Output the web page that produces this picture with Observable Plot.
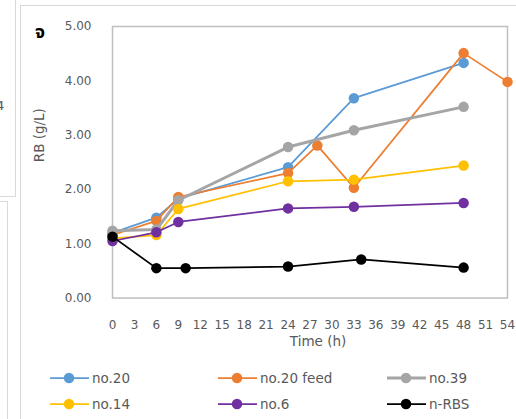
<!DOCTYPE html>
<html><head><meta charset="utf-8">
<script src="https://cdn.jsdelivr.net/npm/d3@7"></script>
<script src="https://cdn.jsdelivr.net/npm/@observablehq/plot@0.6"></script>
<style>
body{margin:0;background:#fff;font-family:"DejaVu Sans",sans-serif;}
#wrap{position:relative;width:516px;height:419px;overflow:hidden;background:#fff;}
#wrap svg.plot{position:absolute;left:0;top:0;}
.deco{position:absolute;border-color:#D9D9D9;border-style:solid;border-width:0;}
.leg{position:absolute;height:20px;display:flex;align-items:center;font-size:13.5px;color:#595959;white-space:nowrap;}
.leg svg{margin-right:3px;}
</style></head><body><div id="wrap"></div>
<script>
// ---- data ----
const seriesNames = ["no.20", "no.20 feed", "no.39", "no.14", "no.6", "n-RBS"];
const seriesColors = ["#5B9BD5", "#ED7D31", "#A5A5A5", "#FFC000", "#7030A0", "#000000"];
const seriesWidths = [1.75, 1.75, 3, 1.75, 1.75, 1.75];

const timeNo20 = [0, 6, 9, 24, 33, 48];
const rbNo20 = [1.20, 1.48, 1.83, 2.41, 3.68, 4.33];
const timeNo20Feed = [0, 6, 9, 24, 28, 33, 48, 54];
const rbNo20Feed = [1.16, 1.42, 1.86, 2.30, 2.81, 2.03, 4.51, 3.98];
const timeNo39 = [0, 6, 9, 24, 33, 48];
const rbNo39 = [1.24, 1.26, 1.80, 2.78, 3.09, 3.52];
const timeNo14 = [0, 6, 9, 24, 33, 48];
const rbNo14 = [1.10, 1.16, 1.64, 2.15, 2.18, 2.44];
const timeNo6 = [0, 6, 9, 24, 33, 48];
const rbNo6 = [1.05, 1.21, 1.40, 1.65, 1.68, 1.75];
const timeNRBS = [0, 6, 10, 24, 34, 48];
const rbNRBS = [1.13, 0.55, 0.55, 0.58, 0.71, 0.56];

const xTicks = [0, 3, 6, 9, 12, 15, 18, 21, 24, 27, 30, 33, 36, 39, 42, 45, 48, 51, 54];
const yTicks = [0, 1, 2, 3, 4, 5];
const xTitle = "Time (h)";
const yTitle = "RB (g/L)";
const panelLetter = "จ";

// ---- build ----
const times = [timeNo20, timeNo20Feed, timeNo39, timeNo14, timeNo6, timeNRBS];
const values = [rbNo20, rbNo20Feed, rbNo39, rbNo14, rbNo6, rbNRBS];
const seriesRows = seriesNames.map((name, i) => times[i].map((t, j) => ({series: name, t, v: values[i][j]})));

const seriesMarks = [];
seriesRows.forEach((rows, i) => {
  seriesMarks.push(Plot.line(rows, {x: "t", y: "v", stroke: seriesColors[i], strokeWidth: seriesWidths[i]}));
  seriesMarks.push(Plot.dot(rows, {x: "t", y: "v", fill: seriesColors[i], r: 5.25}));
});

const chart = Plot.plot({
  width: 516, height: 360,
  marginLeft: 112, marginRight: 9, marginTop: 26, marginBottom: 62.5,
  style: {fontFamily: "DejaVu Sans", fontSize: "12px", color: "#595959", background: "transparent"},
  x: {domain: [0, 54]},
  y: {domain: [0, 5]},
  marks: [
    Plot.frame({stroke: "#BFBFBF", strokeWidth: 1.5}),
    Plot.axisY({ticks: yTicks, tickSize: 0, tickPadding: 21, tickFormat: d => d.toFixed(2), label: null}),
    Plot.axisX({ticks: xTicks, tickSize: 0, tickPadding: 22.5, tickFormat: d => String(d), label: null}),
    Plot.text([xTitle], {frameAnchor: "bottom", dx: 8, dy: 44, lineAnchor: "middle", fontSize: 13.5, fill: "#595959"}),
    Plot.text([yTitle], {frameAnchor: "left", dx: -73, rotate: -90, lineAnchor: "middle", fontSize: 13.5, fill: "#595959"}),
    ...seriesMarks
  ]
});
chart.classList.add("plot");
const wrap = document.getElementById("wrap");
wrap.appendChild(chart);

// screenshot frame decorations
function deco(style) { const d = document.createElement("div"); d.className = "deco"; Object.assign(d.style, style); wrap.appendChild(d); }
deco({left: "20px", top: "5px", width: "520px", height: "430px", borderLeftWidth: "1.5px", borderTopWidth: "1.5px"});
deco({left: "-5px", top: "-5px", width: "20px", height: "201px", borderRightWidth: "1.5px", borderBottomWidth: "1.5px"});
deco({left: "-5px", top: "201px", width: "12px", height: "230px", borderRightWidth: "1.5px", borderTopWidth: "1.5px"});
const stray = document.createElement("div");
Object.assign(stray.style, {position: "absolute", left: "-4px", top: "98px", fontSize: "13px", color: "#595959"});
stray.textContent = "4";
wrap.appendChild(stray);

// panel letter
const letter = document.createElement("div");
Object.assign(letter.style, {position: "absolute", left: "35px", top: "19px", fontSize: "18px", fontWeight: "bold", color: "#000", fontFamily: "'Noto Sans Thai','Noto Sans','DejaVu Sans',sans-serif"});
letter.textContent = panelLetter;
wrap.appendChild(letter);

// legend
const legCols = [50, 218, 387];
const legRows = [368, 394];
seriesNames.forEach((name, i) => {
  const d = document.createElement("div");
  d.className = "leg";
  d.style.left = legCols[i % 3] + "px";
  d.style.top = legRows[Math.floor(i / 3)] + "px";
  d.innerHTML = `<svg width="39" height="14"><line x1="0" y1="7" x2="39" y2="7" stroke="${seriesColors[i]}" stroke-width="${seriesWidths[i]}"/><circle cx="19" cy="7" r="5.25" fill="${seriesColors[i]}"/></svg><span>${name}</span>`;
  wrap.appendChild(d);
});
</script></body></html>
